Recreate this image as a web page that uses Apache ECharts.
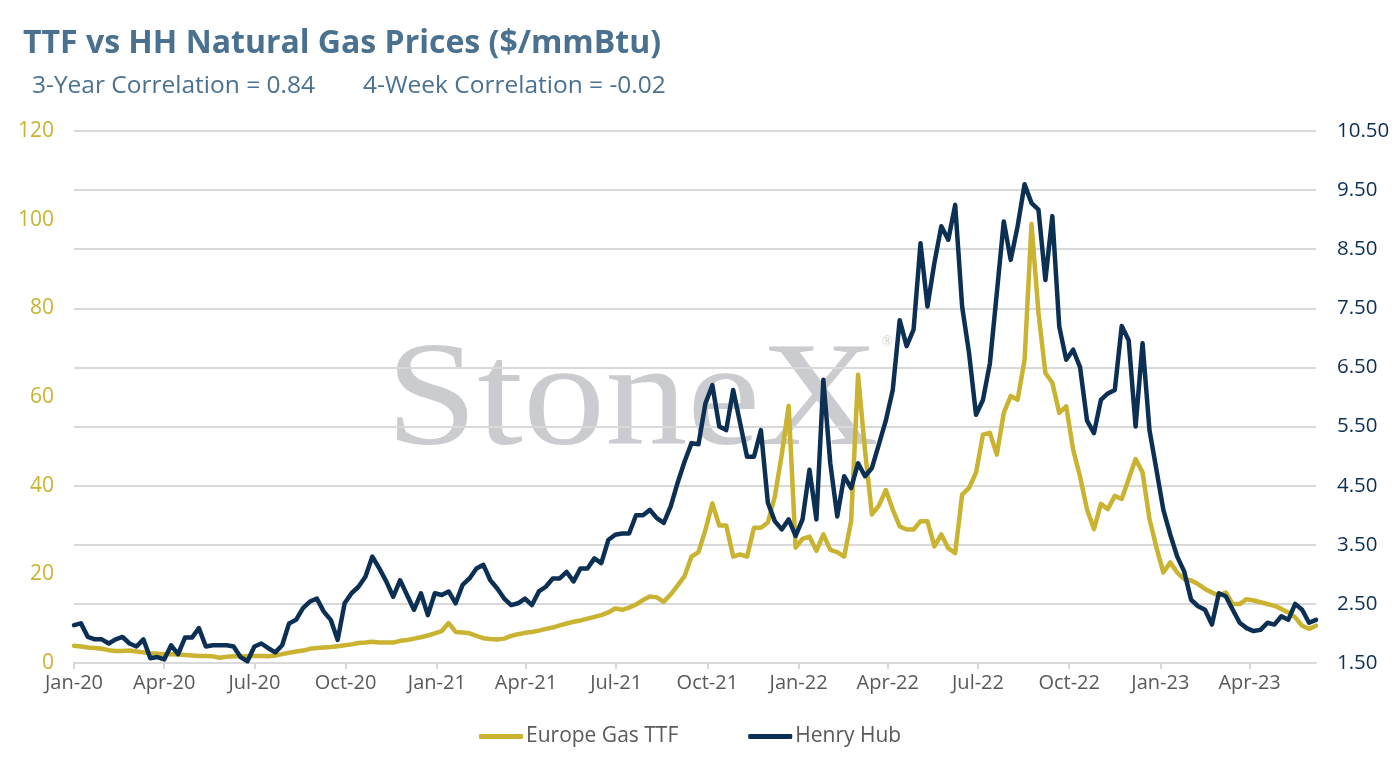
<!DOCTYPE html>
<html>
<head>
<meta charset="utf-8">
<title>TTF vs HH Natural Gas Prices</title>
<script src="https://cdn.jsdelivr.net/npm/echarts@6/dist/echarts.min.js"></script>
<style>
  html, body { margin: 0; padding: 0; background: #ffffff; }
  #gasChart { width: 1394px; height: 762px; }
</style>
</head>
<body>
<div id="gasChart"></div>
<script>
// weekly observations, first one on 2020-01-01
var firstWeek = '2020-01-01';
var weekStep = 7;

// Europe Gas TTF ($/mmBtu), left axis
var ttf = [
  3.9, 3.7, 3.5, 3.4, 3.2, 2.9, 2.7, 2.7, 2.8, 2.6,
  2.4, 2.2, 2.1, 2.0, 2.0, 1.9, 1.8, 1.7, 1.6, 1.6,
  1.5, 1.2, 1.4, 1.5, 1.5, 1.5, 1.6, 1.6, 1.5, 1.7,
  2.0, 2.3, 2.6, 2.8, 3.2, 3.4, 3.5, 3.6, 3.8, 4.0,
  4.2, 4.5, 4.6, 4.8, 4.6, 4.6, 4.6, 5.0, 5.2, 5.5,
  5.8, 6.2, 6.7, 7.2, 9.0, 7.0, 6.9, 6.7, 6.1, 5.6,
  5.4, 5.3, 5.5, 6.1, 6.5, 6.8, 7.0, 7.3, 7.7, 8.0,
  8.5, 8.9, 9.3, 9.6, 10.0, 10.4, 10.8, 11.4, 12.3, 12.0,
  12.5, 13.2, 14.2, 15.0, 14.8, 13.8, 15.5, 17.5, 19.6, 24.0,
  25.0, 30.0, 36.0, 31.0, 31.0, 24.0, 24.5, 24.0, 30.5, 30.5,
  31.7, 37.5, 47.0, 58.0, 26.0, 28.0, 28.5, 25.3, 29.0, 25.5,
  25.0, 24.0, 32.0, 65.0, 48.0, 33.5, 35.5, 39.0, 34.6, 30.8,
  30.1, 30.1, 32.0, 32.0, 26.3, 29.0, 25.9, 24.8, 38.0, 39.5,
  42.9, 51.5, 51.9, 47.0, 56.4, 60.2, 59.4, 68.4, 99.0, 79.0,
  65.4, 63.2, 56.4, 57.9, 48.1, 42.0, 34.6, 30.2, 35.9, 34.7,
  37.7, 37.0, 41.5, 46.0, 43.0, 32.5, 26.1, 20.4, 22.7, 20.4,
  18.9, 18.6, 17.8, 16.7, 15.9, 15.2, 15.9, 13.3, 13.3, 14.4,
  14.1, 13.7, 13.3, 12.9, 12.2, 11.4, 10.3, 8.4, 7.7, 8.4
];

// Henry Hub ($/mmBtu), right axis
var henryHub = [
  2.14, 2.17, 1.94, 1.90, 1.90, 1.83, 1.90, 1.94, 1.83, 1.78,
  1.90, 1.58, 1.60, 1.56, 1.80, 1.65, 1.93, 1.93, 2.09, 1.78,
  1.80, 1.80, 1.80, 1.78, 1.60, 1.53, 1.78, 1.83, 1.75, 1.68,
  1.80, 2.17, 2.23, 2.43, 2.54, 2.59, 2.37, 2.23, 1.89, 2.51,
  2.68, 2.79, 2.96, 3.30, 3.10, 2.88, 2.62, 2.90, 2.65, 2.40,
  2.68, 2.31, 2.68, 2.65, 2.71, 2.51, 2.82, 2.93, 3.10, 3.16,
  2.90, 2.76, 2.59, 2.48, 2.51, 2.59, 2.48, 2.71, 2.79, 2.93,
  2.93, 3.04, 2.88, 3.10, 3.10, 3.27, 3.19, 3.58, 3.67, 3.69,
  3.69, 4.00, 4.00, 4.09, 3.95, 3.87, 4.15, 4.55, 4.91, 5.22,
  5.20, 5.89, 6.20, 5.50, 5.44, 6.12, 5.56, 4.99, 4.99, 5.44,
  4.21, 3.90, 3.76, 3.93, 3.65, 3.93, 4.77, 3.93, 6.29, 4.88,
  3.98, 4.66, 4.46, 4.88, 4.66, 4.80, 5.20, 5.60, 6.12, 7.30,
  6.86, 7.14, 8.60, 7.53, 8.27, 8.89, 8.66, 9.25, 7.53, 6.74,
  5.70, 5.95, 6.57, 7.76, 8.97, 8.32, 8.89, 9.60, 9.28, 9.17,
  7.98, 9.06, 7.19, 6.63, 6.80, 6.50, 5.60, 5.39, 5.95, 6.06,
  6.12, 7.20, 6.96, 5.50, 6.91, 5.44, 4.77, 4.09, 3.67, 3.30,
  3.05, 2.57, 2.46, 2.40, 2.15, 2.68, 2.63, 2.40, 2.18, 2.09,
  2.04, 2.06, 2.18, 2.15, 2.29, 2.23, 2.50, 2.40, 2.18, 2.23
];

// x-axis tick labels sit on these quarter starts
var quarterStarts = [
  '2020-01-01', '2020-04-01', '2020-07-01', '2020-10-01',
  '2021-01-01', '2021-04-01', '2021-07-01', '2021-10-01',
  '2022-01-01', '2022-04-01', '2022-07-01', '2022-10-01',
  '2023-01-01', '2023-04-01'
];
var monthNames = ['Jan', 'Feb', 'Mar', 'Apr', 'May', 'Jun', 'Jul', 'Aug', 'Sep', 'Oct', 'Nov', 'Dec'];

var DAY = 86400000;
var originTime = Date.parse(firstWeek);

function dayOf(dateStr) {
    return Math.round((Date.parse(dateStr) - originTime) / DAY);
}

function fmtQuarter(v) {
    var d = new Date(originTime + Math.round(v) * DAY);
    return monthNames[d.getUTCMonth()] + '-' + String(d.getUTCFullYear()).slice(2);
}

var tickDays = quarterStarts.map(dayOf);
var lastDay = (ttf.length - 1) * weekStep;

var ttfPoints = ttf.map(function (v, i) { return [i * weekStep, v]; });
var hhPoints = henryHub.map(function (v, i) { return [i * weekStep, v]; });

var gold = '#C9B330';
var navy = '#0C2F54';
var titleColor = '#4A7190';
var fontName = 'Open Sans';

var chart = echarts.init(document.getElementById('gasChart'));

var option = {
    backgroundColor: '#ffffff',
    animation: false,
    textStyle: { fontFamily: fontName },
    title: [
        {
            text: 'TTF vs HH Natural Gas Prices ($/mmBtu)',
            left: 18, top: 23,
            textStyle: { fontFamily: fontName, fontSize: 32, fontWeight: 'bold', color: titleColor }
        },
        {
            text: '3-Year Correlation = 0.84',
            left: 27, top: 69,
            textStyle: { fontFamily: fontName, fontSize: 24.5, fontWeight: 'normal', color: titleColor }
        },
        {
            text: '4-Week Correlation = -0.02',
            left: 358, top: 69,
            textStyle: { fontFamily: fontName, fontSize: 24.5, fontWeight: 'normal', color: titleColor }
        }
    ],
    // StoneX watermark behind the plot
    graphic: [
        {
            type: 'text',
            z: -10,
            x: 386, y: 405,
            scaleX: 1.11,
            style: {
                text: 'StoneX',
                font: '148px "Liberation Serif"',
                fill: '#cbccd0',
                textAlign: 'left',
                textVerticalAlign: 'middle'
            }
        },
        {
            type: 'text',
            z: -10,
            x: 882, y: 342,
            style: {
                text: '\u00AE',
                font: '14px "Liberation Serif"',
                fill: '#cbccd0',
                textAlign: 'left',
                textVerticalAlign: 'middle'
            }
        }
    ],
    legend: {
        data: ['Europe Gas TTF', 'Henry Hub'],
        left: 474,
        top: 721,
        icon: 'roundRect',
        itemWidth: 44,
        itemHeight: 5,
        itemGap: 70,
        textStyle: { fontFamily: fontName, fontSize: 21, color: '#595959', padding: [0, 0, 0, -2] }
    },
    grid: { left: 74, right: 78, top: 131, bottom: 99 },
    xAxis: {
        type: 'value',
        min: 0,
        max: lastDay,
        axisLine: { show: true, lineStyle: { color: '#d9d9d9', width: 2 } },
        axisTick: { show: true, length: 6, customValues: tickDays, lineStyle: { color: '#d9d9d9', width: 2 } },
        axisLabel: {
            customValues: tickDays,
            formatter: fmtQuarter,
            fontFamily: fontName, fontSize: 20, color: '#595959', margin: 10
        },
        splitLine: { show: false }
    },
    yAxis: [
        {
            type: 'value',
            position: 'left',
            min: 0, max: 120, interval: 20,
            axisLine: { show: false },
            axisTick: { show: false },
            splitLine: { show: false },
            axisLabel: { fontFamily: fontName, fontSize: 21, color: gold, margin: 20 }
        },
        {
            type: 'value',
            position: 'right',
            min: 1.5, max: 10.5, interval: 1,
            axisLine: { show: false },
            axisTick: { show: false },
            splitLine: { show: true, lineStyle: { color: '#d9d9d9', width: 2 } },
            axisLabel: {
                fontFamily: fontName, fontSize: 20.5, color: navy, margin: 21,
                formatter: function (v) { return v.toFixed(2); }
            }
        }
    ],
    series: [
        {
            name: 'Europe Gas TTF',
            type: 'line',
            yAxisIndex: 0,
            data: ttfPoints,
            showSymbol: false,
            color: gold,
            lineStyle: { color: gold, width: 4.5, cap: 'round', join: 'round' }
        },
        {
            name: 'Henry Hub',
            type: 'line',
            yAxisIndex: 1,
            data: hhPoints,
            showSymbol: false,
            color: navy,
            lineStyle: { color: navy, width: 4.5, cap: 'round', join: 'round' }
        }
    ]
};

chart.setOption(option);
</script>
</body>
</html>
